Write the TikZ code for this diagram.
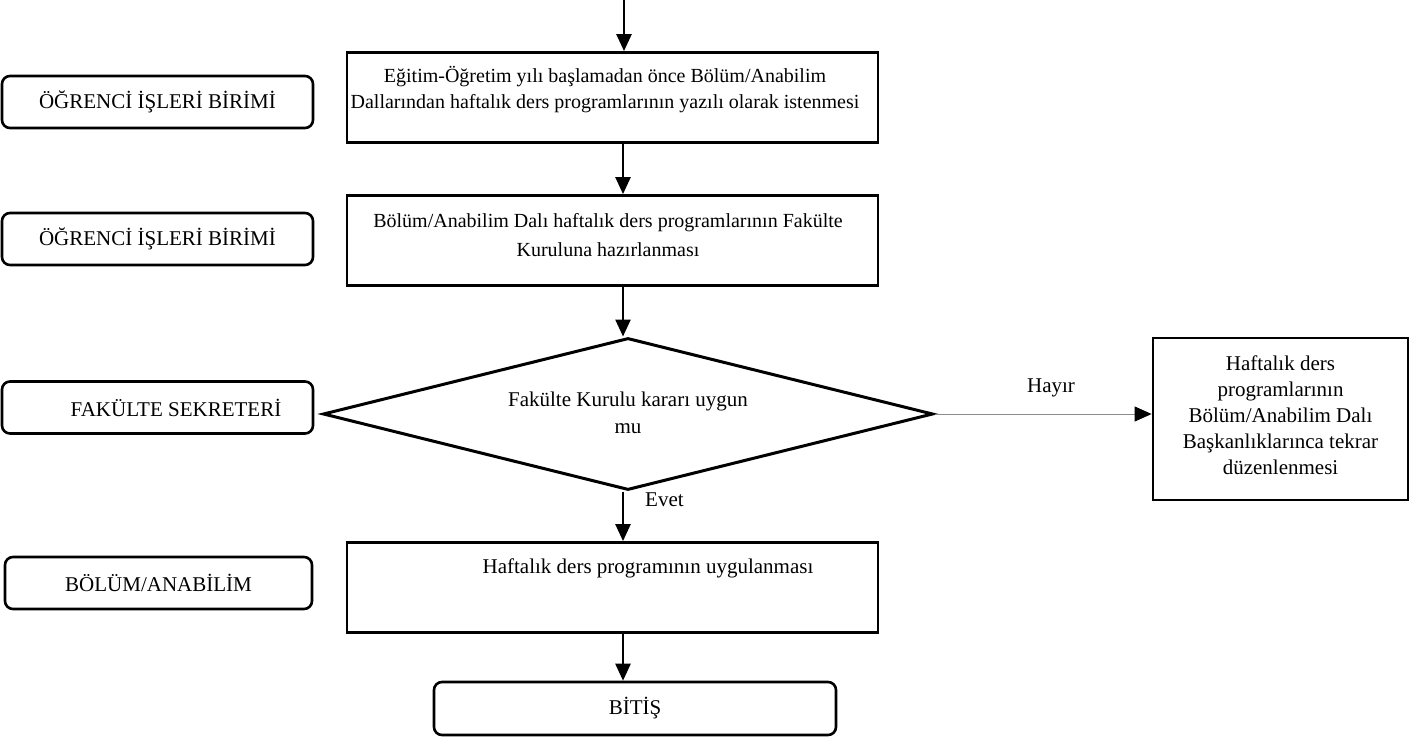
\documentclass[tikz,border=0pt]{standalone}
\usepackage{fontspec}
\setmainfont{Liberation Serif}
\usetikzlibrary{arrows.meta,shapes.geometric,calc}
\begin{document}
\begin{tikzpicture}[x=1pt,y=-1pt,
  lane/.style={draw, line width=2.6pt, rounded corners=8pt, minimum width=311pt, minimum height=52pt, inner sep=0pt, font=\fontsize{21}{26}\selectfont},
  proc/.style={draw, line width=2.8pt, minimum width=531pt, minimum height=90pt, inner sep=0pt},
  txt/.style={align=center, inner sep=0pt, font=\fontsize{21}{26}\selectfont},
  arr/.style={line width=2.5pt, -{Triangle[length=17pt,width=15pt]}},
]
\useasboundingbox (0,0) rectangle (1424,738);

% swim-lane labels
\node[lane] (l1) at (157.5,102) {ÖĞRENCİ İŞLERİ BİRİMİ};
\node[lane] (l2) at (157.5,239) {ÖĞRENCİ İŞLERİ BİRİMİ};
\node[lane] (l3) at (157.5,407.5) {};
\node[txt] (l3t) at (176,407.5) {FAKÜLTE SEKRETERİ};
\node[lane, minimum width=307pt] (l4) at (158.5,583) {BÖLÜM/ANABİLİM};

% process boxes
\node[proc] (b1) at (612.5,97.5) {};
\node[txt, font=\fontsize{20}{26}\selectfont] (b1t) at (605,90) {Eğitim-Öğretim yılı başlamadan önce Bölüm/Anabilim\\Dallarından haftalık ders programlarının yazılı olarak istenmesi};
\node[proc] (b2) at (612.5,240.5) {};
\node[txt, font=\fontsize{20}{29}\selectfont] (b2t) at (608,235) {Bölüm/Anabilim Dalı haftalık ders programlarının Fakülte\\Kuruluna hazırlanması};

% decision
\node[draw, diamond, line width=3pt, minimum width=610pt, minimum height=152pt, inner sep=0pt] (d) at (628,414) {};
\node[txt, font=\fontsize{21}{27}\selectfont] (dt) at (628,413) {Fakülte Kurulu kararı uygun\\mu};

% right box
\node[draw, line width=2.8pt, minimum width=255pt, minimum height=162pt, inner sep=0pt] (r) at (1280.5,419) {};
\node[txt] (rt) at (1280.5,415) {Haftalık ders\\programlarının\\Bölüm/Anabilim Dalı\\Başkanlıklarınca tekrar\\düzenlenmesi};

% box 4 and end
\node[proc] (b4) at (612.5,587.5) {};
\node[txt] (b4t) at (648,568) {Haftalık ders programının uygulanması};
\node[lane, minimum width=402pt, minimum height=53pt] (bit) at (635,708.5) {BİTİŞ};

% connectors
\coordinate (s) at (624,0);
\coordinate (ax) at (623,0);
\draw[arr] (s) -- (s |- b1.north);
\draw[arr] (b1.south -| ax) -- (b2.north -| ax);
\draw[arr] (b2.south -| ax) -- (d.north -| ax);
\draw[line width=0.9pt, draw=black!45, -{Triangle[length=17pt,width=15pt,color=black]}] (d.east) -- (d.east -| r.west);
\node[txt] (hay) at (1051,388) {Hayır};
\draw[arr] (d.south -| ax) -- (b4.north -| ax);
\node[txt, anchor=west] (ev) at (645,500) {Evet};
\draw[arr] (b4.south -| ax) -- (bit.north -| ax);
\end{tikzpicture}
\end{document}
